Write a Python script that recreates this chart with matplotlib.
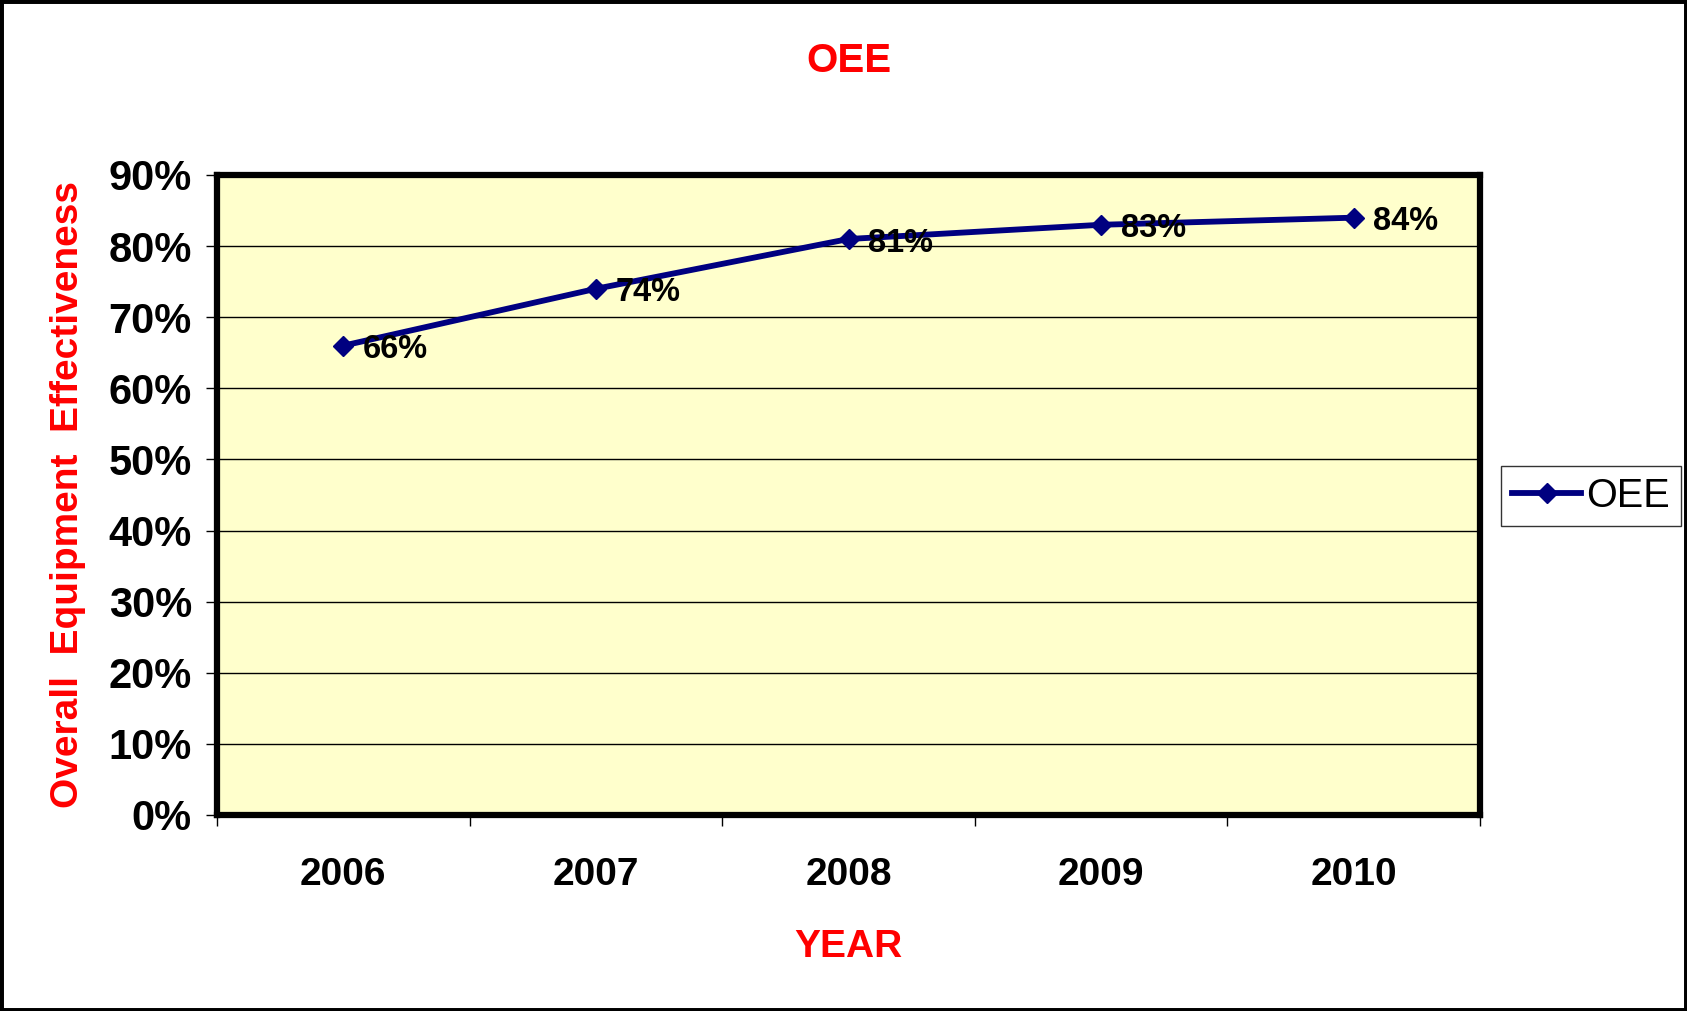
import numpy as np
import matplotlib.pyplot as plt
from matplotlib.patches import Rectangle

years = ['2006', '2007', '2008', '2009', '2010']
oee = [0.66, 0.74, 0.81, 0.83, 0.84]
labels = ['66%', '74%', '81%', '83%', '84%']
yticks = [0.0, 0.1, 0.2, 0.3, 0.4, 0.5, 0.6, 0.7, 0.8, 0.9]

plt.rcParams['font.family'] = ['Liberation Sans', 'DejaVu Sans']

W, H = 1687, 1011
fig = plt.figure(figsize=(W / 100, H / 100), dpi=100)
ax = fig.add_axes([217 / W, 1 - 815 / H, (1480 - 217) / W, (815 - 175) / H])
ax.set_facecolor('#FFFFCC')

x = np.arange(len(years))
ax.plot(x, oee, color='#000080', linewidth=4.2, marker='D', markersize=10,
        label='OEE', zorder=3)
for xi, yi, lab in zip(x, oee, labels):
    ax.annotate(lab, (xi, yi), xytext=(14, -3), textcoords='offset points',
                ha='left', va='center', fontsize=23.5, fontweight='bold', zorder=4)

ax.set_xlim(-0.5, len(years) - 0.5)
ax.set_ylim(0, 0.9)
ax.set_yticks(yticks)
ax.set_yticklabels([f'{int(round(t * 100))}%' for t in yticks],
                   fontsize=30, fontweight='bold')
ax.set_xticks(np.arange(-0.5, len(years), 1.0))
ax.set_xticklabels([])
ax.set_xticks(x, minor=True)
ax.set_xticklabels(years, minor=True, fontsize=28, fontweight='bold')
ax.tick_params(axis='x', which='major', direction='out', length=8, width=1)
ax.tick_params(axis='x', which='minor', length=0, pad=30)
ax.tick_params(axis='y', direction='out', length=8, width=1, pad=10)
ax.yaxis.grid(True, color='black', linewidth=1)
ax.set_axisbelow(True)
for s in ax.spines.values():
    s.set_linewidth(4.5)

ax.set_xlabel('YEAR', color='red', fontsize=28, fontweight='bold', labelpad=26)
ax.set_ylabel('Overall  Equipment  Effectiveness', color='red', fontsize=28,
              fontweight='bold', labelpad=16)
fig.text(0.5 * (217 + 1480) / W, 1 - 61 / H, 'OEE', color='red', fontsize=29,
         fontweight='bold', ha='center', va='center')

leg = fig.legend(loc='center left', bbox_to_anchor=(1501 / W, 1 - 496 / H),
                 fontsize=28.5, frameon=True, fancybox=False, handlelength=1.75,
                 borderpad=0.28, handletextpad=0.12, borderaxespad=0)
leg.get_frame().set_edgecolor('black')
leg.get_frame().set_linewidth(1)

fig.patches.append(Rectangle((0, 0), 1, 1, transform=fig.transFigure,
                             fill=False, edgecolor='black', linewidth=5))

fig.savefig('out.png', dpi=100)
